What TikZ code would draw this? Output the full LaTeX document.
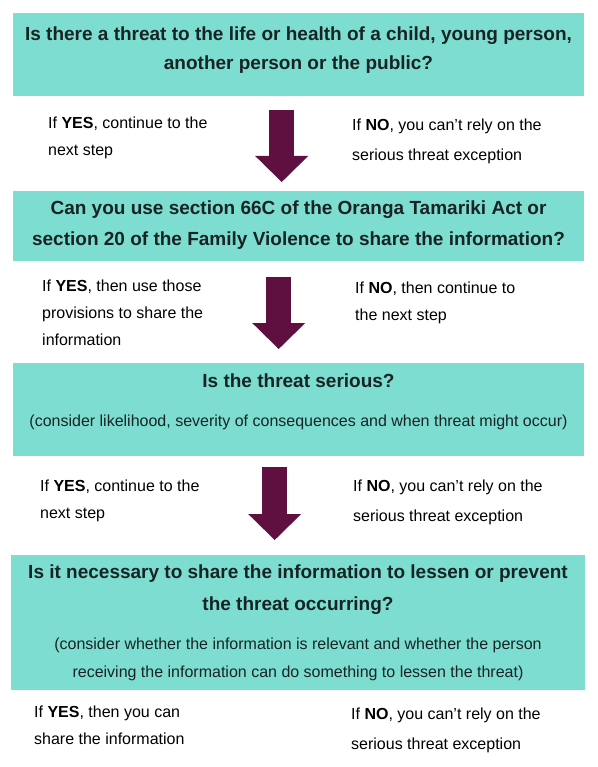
\documentclass[tikz,border=0pt]{standalone}
\usepackage{fontspec}
\setmainfont{Liberation Sans}
\usetikzlibrary{arrows.meta,positioning}
\definecolor{boxteal}{RGB}{125,221,209}
\definecolor{arrowplum}{RGB}{96,16,64}
\definecolor{inktext}{RGB}{24,36,36}

\tikzset{
    qbox/.style={fill=boxteal, draw=none, inner sep=0, anchor=north west, minimum width=571},
    qtitle/.style={font=\fontsize{19}{29}\selectfont\bfseries, text=inktext, align=center, anchor=base, inner sep=0},
    qnote/.style={font=\fontsize{16}{28}\selectfont, text=inktext, align=center, anchor=base, inner sep=0},
    choice/.style={font=\fontsize{16}{27}\selectfont, align=left, anchor=base west, inner sep=0},
    nextarrow/.style={arrowplum, line width=25pt, -{Triangle[width=53pt,length=26pt,line width=0pt]}}
}

\begin{document}
\begin{tikzpicture}[x=1pt,y=-1pt]
            \useasboundingbox (0,0) rectangle (597,767);

            % Question boxes
            \node[qbox, minimum height=83] (threat) at (13,13) {};
            \node[qbox, minimum height=70] (law) at (13,191) {};
            \node[qbox, minimum height=93] (serious) at (13,363) {};
            \node[qbox, minimum height=135, minimum width=574] (necessary) at (11,555) {};

            % Questions (placed at the baseline of the last line)
            \node[qtitle] (threatq) at (298.5,70) {Is there a threat to the life or health of a child, young person,\\another person or the public?};
            \node[qtitle, font=\fontsize{19}{31}\selectfont\bfseries] (lawq) at (298.5,245) {Can you use section 66C of the Oranga Tamariki Act or\\section 20 of the Family Violence to share the information?};
            \node[qtitle] (seriousq) at (298.5,387) {Is the threat serious?};
            \node[qnote] (seriousn) at (298.5,426) {(consider likelihood, severity of consequences and when threat might occur)};
            \node[qtitle, font=\fontsize{19}{32}\selectfont\bfseries] (necessaryq) at (298,610) {Is it necessary to share the information to lessen or prevent\\the threat occurring?};
            \node[qnote] (necessaryn) at (298,677) {(consider whether the information is relevant and whether the person\\receiving the information can do something to lessen the threat)};

            % Arrows to the next step
            \draw[nextarrow, shorten <=14pt, shorten >=9pt] ([xshift=-17pt]threat.south) -- ([xshift=-17pt]law.north);
            \draw[nextarrow, shorten <=16pt, shorten >=14pt] ([xshift=-20pt]law.south) -- ([xshift=-20pt]serious.north);
            \draw[nextarrow, shorten <=11pt, shorten >=15pt] ([xshift=-24pt]serious.south) -- ([xshift=-24pt]serious.south |- necessary.north);

            % Yes / no answers
            \node[choice] (threatyes) at (48,155.5) {If \textbf{YES}, continue to the\\next step};
            \node[choice, font=\fontsize{16}{30}\selectfont] (threatno) at (352,160.5) {If \textbf{NO}, you can’t rely on the\\serious threat exception};
            \node[choice] (lawyes) at (42,345.5) {If \textbf{YES}, then use those\\provisions to share the\\information};
            \node[choice] (lawno) at (355,320.5) {If \textbf{NO}, then continue to\\the next step};
            \node[choice] (seriousyes) at (40,518.5) {If \textbf{YES}, continue to the\\next step};
            \node[choice, font=\fontsize{16}{30}\selectfont] (seriousno) at (353,521.5) {If \textbf{NO}, you can’t rely on the\\serious threat exception};
            \node[choice] (necessaryyes) at (34,744.5) {If \textbf{YES}, then you can\\share the information};
            \node[choice, font=\fontsize{16}{30}\selectfont] (necessaryno) at (351,749.5) {If \textbf{NO}, you can’t rely on the\\serious threat exception};
\end{tikzpicture}
\end{document}
